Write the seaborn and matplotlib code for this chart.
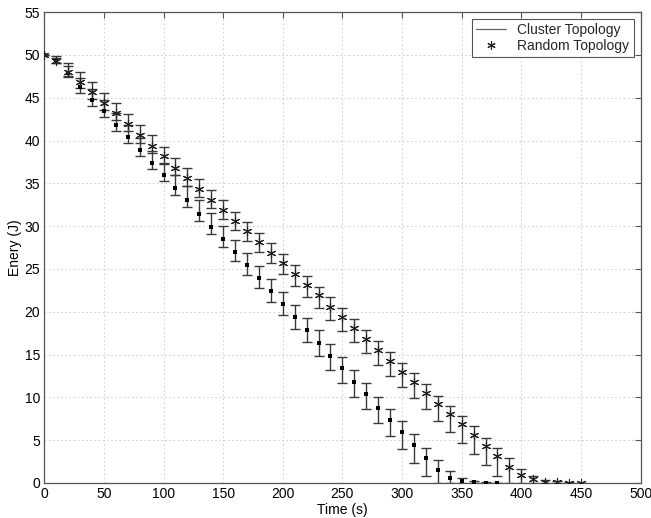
import numpy as np
import pandas as pd
import matplotlib
matplotlib.use("Agg")
import matplotlib.pyplot as plt
from matplotlib.lines import Line2D
import seaborn as sns

# Remaining energy over time, sampled every 10 s
cluster_time = list(range(0, 390, 10))
cluster_energy = [50, 49.3, 47.9, 46.2, 44.7, 43.4, 41.8, 40.4, 38.9, 37.4,
                  36.0, 34.4, 33.0, 31.4, 29.9, 28.5, 27.0, 25.5, 24.0, 22.4,
                  20.95, 19.4, 17.9, 16.4, 14.85, 13.4, 11.8, 10.4, 8.8, 7.4,
                  5.9, 4.4, 2.96, 1.52, 0.62, 0.27, 0.08, 0.03, 0.01]
cluster_err_up = [0, 0.3, 0.8, 1.1, 1.3, 1.3, 1.4, 1.4, 1.4, 1.4,
                  1.35, 1.6, 1.65, 1.65, 1.6, 1.5, 1.4, 1.4, 1.4, 1.4,
                  1.35, 1.4, 1.4, 1.45, 1.35, 1.3, 1.35, 1.3, 1.25, 1.3,
                  1.3, 1.3, 1.17, 1.2, 0.78, 0.35, 0.1, 0.05, 0.03]
cluster_err_lo = [0, 0.3, 0.5, 0.6, 0.7, 0.7, 0.7, 0.7, 0.7, 0.7,
                  0.7, 0.75, 0.8, 0.8, 0.85, 0.95, 1.1, 1.2, 1.25, 1.3,
                  1.35, 1.4, 1.43, 1.56, 1.6, 1.7, 1.75, 1.8, 1.85, 1.95,
                  1.95, 2.1, 2.14, 1.52, 0.62, 0.27, 0.08, 0.03, 0.01]

random_time = list(range(0, 460, 10))
random_energy = [50, 49.3, 48.05, 46.85, 45.65, 44.35, 43.2, 41.9, 40.6, 39.4,
                 38.15, 36.85, 35.6, 34.35, 33.1, 31.9, 30.6, 29.4, 28.15, 26.9,
                 25.65, 24.4, 23.1, 21.9, 20.6, 19.4, 18.1, 16.8, 15.5, 14.25,
                 13.0, 11.8, 10.5, 9.2, 8.0, 6.85, 5.6, 4.36, 3.15, 1.9,
                 0.93, 0.43, 0.15, 0.08, 0.04, 0.01]
random_err_up = [0, 0.6, 1.0, 1.1, 1.2, 1.2, 1.2, 1.2, 1.2, 1.2,
                 1.15, 1.15, 1.2, 1.15, 1.1, 1.1, 1.1, 1.1, 1.1, 1.1,
                 1.1, 1.1, 1.1, 1.05, 1.1, 1.04, 1.05, 1.05, 1.05, 1.05,
                 1.05, 1.05, 1.05, 1.0, 1.0, 1.0, 1.0, 0.95, 0.97, 1.0,
                 0.7, 0.4, 0.2, 0.1, 0.05, 0.02]
random_err_lo = [0, 0.3, 0.5, 0.7, 0.8, 0.8, 0.8, 0.8, 0.85, 0.85,
                 0.85, 0.85, 0.9, 0.95, 1.0, 1.05, 1.1, 1.1, 1.15, 1.2,
                 1.25, 1.35, 1.35, 1.5, 1.56, 1.6, 1.6, 1.65, 1.7, 1.75,
                 1.8, 1.85, 1.9, 1.95, 2.05, 2.2, 2.25, 2.25, 2.35, 1.9,
                 0.93, 0.43, 0.15, 0.08, 0.04, 0.01]

series_labels = ["Cluster Topology", "Random Topology"]
x_ticks = list(range(0, 501, 50))
y_ticks = list(range(0, 56, 5))

cluster = pd.DataFrame({"time": cluster_time, "energy": cluster_energy,
                        "up": cluster_err_up, "lo": cluster_err_lo})
random_ = pd.DataFrame({"time": random_time, "energy": random_energy,
                        "up": random_err_up, "lo": random_err_lo})

sns.set_theme(style="white")
plt.rcParams["font.family"] = ["Liberation Sans", "DejaVu Sans"]
plt.rcParams["font.size"] = 10

fig = plt.figure(figsize=(6.51, 5.18), dpi=100)
ax = fig.add_axes([0.068, 0.0676, 0.916, 0.909])

bar_color = "#3a3a3a"
for df in (cluster, random_):
    ax.errorbar(df["time"], df["energy"], yerr=[df["lo"], df["up"]],
                fmt="none", ecolor=bar_color, elinewidth=1.0,
                capsize=3.5, capthick=1.0, zorder=2)

sns.scatterplot(data=cluster, x="time", y="energy", ax=ax, marker="s",
                s=8, color="black", linewidth=0, zorder=3, legend=False)
sns.scatterplot(data=random_, x="time", y="energy", ax=ax, marker=(6, 2, 0),
                s=36, color="#222222", linewidth=0.8, zorder=3, legend=False)

ax.set_xlim(0, 500)
ax.set_ylim(0, 55)
ax.set_xticks(x_ticks)
ax.set_yticks(y_ticks)
ax.set_xlabel("Time (s)", fontsize=10, labelpad=1, color="black")
ax.set_ylabel("Enery (J)", fontsize=10, labelpad=2, color="black")

ax.grid(True, linestyle=(0, (2, 3)), color="#c8c8c8", linewidth=0.6)
ax.tick_params(direction="in", length=4, width=0.8, color="#555555",
               top=True, right=True, labelsize=10, pad=3,
               labelcolor="black")
for sp in ax.spines.values():
    sp.set_color("#555555")
    sp.set_linewidth(0.9)

handles = [Line2D([0], [0], color="#666666", linewidth=0.9),
           Line2D([0], [0], color="#222222", linestyle="none",
                  marker=(6, 2, 0), markersize=6, markeredgewidth=0.8)]
leg = ax.legend(handles, series_labels, loc="upper right", fontsize=10,
                frameon=True, fancybox=False, framealpha=1,
                edgecolor="#555555", borderaxespad=0.5, handlelength=2.2,
                handletextpad=0.8, borderpad=0.3, labelspacing=0.1)
leg.get_frame().set_linewidth(0.8)

fig.savefig("out.png", dpi=100)
